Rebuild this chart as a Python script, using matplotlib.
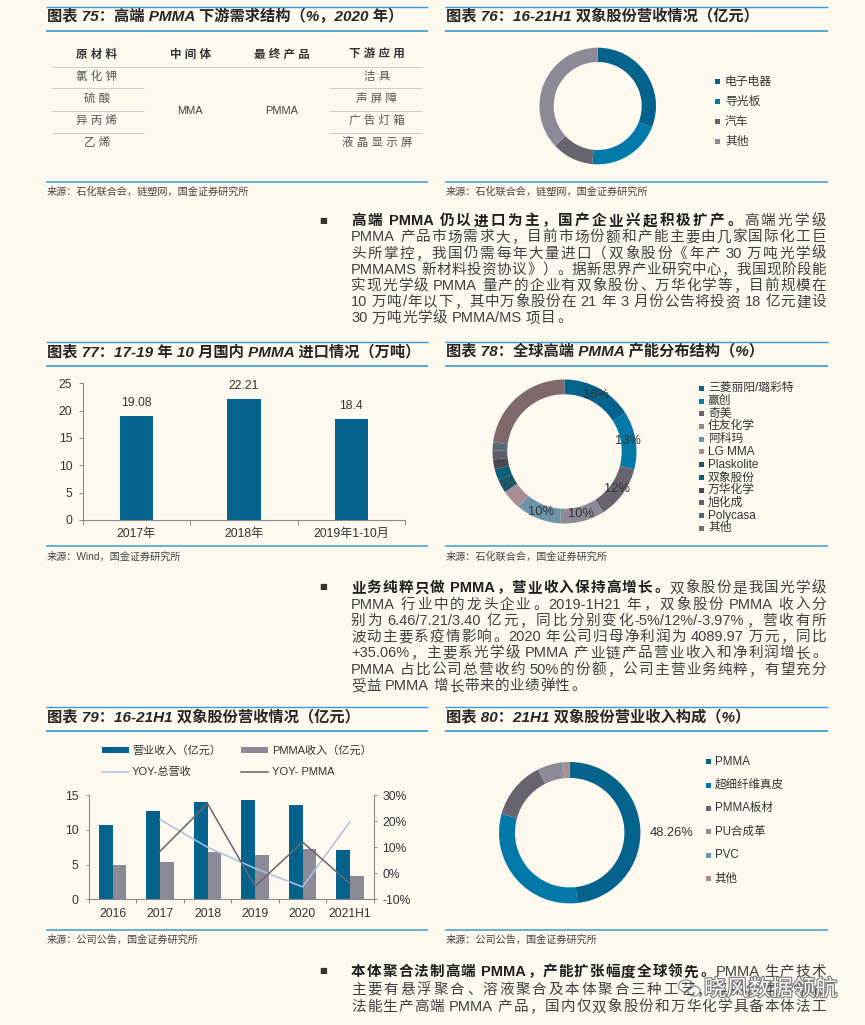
import matplotlib
matplotlib.use('Agg')
import matplotlib.pyplot as plt
import numpy as np
from matplotlib.lines import Line2D
from matplotlib.patches import Rectangle, Ellipse
import matplotlib.patheffects as pe
import warnings
warnings.filterwarnings('ignore')

# ---------------- data ----------------
t75_headers = ['原材料', '中间体', '最终产品', '下游应用']
t75_raw = ['氯化钾', '硫酸', '异丙烯', '乙烯']
t75_mid = 'MMA'
t75_final = 'PMMA'
t75_apps = ['洁具', '声屏障', '广告灯箱', '液晶显示屏']

c76_labels = ['电子电器', '导光板', '汽车', '其他']
c76_values = [31.0, 20.5, 11.5, 37.0]

c77_cats = ['2017年', '2018年', '2019年1-10月']
c77_values = [19.08, 22.21, 18.4]
c77_ticks = [0, 5, 10, 15, 20, 25]

c78_labels = ['三菱丽阳/璐彩特', '赢创', '奇美', '住友化学', '阿科玛', 'LG MMA',
              'Plaskolite', '双象股份', '万华化学', '旭化成', 'Polycasa', '其他']
c78_values = [16, 13, 12, 10, 10, 4.5, 3.0, 2.5, 2.2, 2.0, 1.8, 23.0]
c78_n_labeled = 5

c79_years = ['2016', '2017', '2018', '2019', '2020', '2021H1']
c79_revenue = [10.7, 12.8, 14.1, 14.3, 13.6, 7.05]
c79_pmma = [4.95, 5.45, 6.87, 6.46, 7.21, 3.40]
c79_yoy_total = [np.nan, 20.7, 10.0, 1.9, -5.2, 19.9]
c79_yoy_pmma = [np.nan, 8.5, 26.8, -5.0, 12.0, -3.97]
c79_left_ticks = [0, 5, 10, 15]
c79_right_ticks = [-10, 0, 10, 20, 30]
c79_legend = ['营业收入（亿元）', 'PMMA收入（亿元）', 'YOY-总营收', 'YOY- PMMA']

c80_labels = ['PMMA', '超细纤维真皮', 'PMMA板材', 'PU合成革', 'PVC', '其他']
c80_values = [48.26, 31.04, 13.3, 5.6, 0.3, 1.5]

titles = {
    75: '图表 75：高端 PMMA 下游需求结构（%，2020 年）',
    76: '图表 76：16-21H1 双象股份营收情况（亿元）',
    77: '图表 77：17-19 年 10 月国内 PMMA 进口情况（万吨）',
    78: '图表 78：全球高端 PMMA 产能分布结构（%）',
    79: '图表 79：16-21H1 双象股份营收情况（亿元）',
    80: '图表 80：21H1 双象股份营业收入构成（%）',
}
sources = {
    75: '来源：石化联合会，链塑网，国金证券研究所',
    76: '来源：石化联合会，链塑网，国金证券研究所',
    77: '来源：Wind，国金证券研究所',
    78: '来源：石化联合会，国金证券研究所',
    79: '来源：公司公告，国金证券研究所',
    80: '来源：公司公告，国金证券研究所',
}

para1 = [
    [('高端 PMMA 仍以进口为主，国产企业兴起积极扩产。', True), ('高端光学级', False)],
    [('PMMA 产品市场需求大，目前市场份额和产能主要由几家国际化工巨', False)],
    [('头所掌控，我国仍需每年大量进口（双象股份《年产 30 万吨光学级', False)],
    [('PMMAMS 新材料投资协议》）。据新思界产业研究中心，我国现阶段能', False)],
    [('实现光学级 PMMA 量产的企业有双象股份、万华化学等，目前规模在', False)],
    [('10 万吨/年以下，其中万象股份在 21 年 3 月份公告将投资 18 亿元建设', False)],
    [('30 万吨光学级 PMMA/MS 项目。', False)],
]
para2 = [
    [('业务纯粹只做 PMMA，营业收入保持高增长。', True), ('双象股份是我国光学级', False)],
    [('PMMA 行业中的龙头企业。2019-1H21 年，双象股份 PMMA 收入分', False)],
    [('别为 6.46/7.21/3.40 亿元，同比分别变化-5%/12%/-3.97%，营收有所', False)],
    [('波动主要系疫情影响。2020 年公司归母净利润为 4089.97 万元，同比', False)],
    [('+35.06%，主要系光学级 PMMA 产业链产品营业收入和净利润增长。', False)],
    [('PMMA 占比公司总营收约 50%的份额，公司主营业务纯粹，有望充分', False)],
    [('受益 PMMA 增长带来的业绩弹性。', False)],
]
para3 = [
    [('本体聚合法制高端 PMMA，产能扩张幅度全球领先。', True), ('PMMA 生产技术', False)],
    [('主要有悬浮聚合、溶液聚合及本体聚合三种工艺，其中仅本体聚合', False)],
    [('法能生产高端 PMMA 产品，国内仅双象股份和万华化学具备本体法工', False)],
]

# ---------------- style ----------------
W, H = 865, 1025
BG = '#FDF9EE'
LINE_BLUE = '#3A9AD3'
MIX = ['Liberation Sans', 'Noto Sans CJK SC']
CJK = 'Noto Sans CJK SC'
LAT = 'Liberation Sans'
plt.rcParams['font.family'] = MIX
plt.rcParams['axes.unicode_minus'] = False

C_TEAL = '#03638C'
C_BLUE = '#0079A8'
C_DGRAY = '#67646F'
C_GRAY = '#8D8A98'
C_STEEL = '#6C95AA'
C_PINK = '#A88E93'
TXT = '#333333'

fig = plt.figure(figsize=(W / 100, H / 100), dpi=100, facecolor=BG)
renderer = fig.canvas.get_renderer()


def fx(x):
    return x / W


def fy(y):
    return 1 - y / H


def ftext(x, y, s, **kw):
    return fig.text(fx(x), fy(y), s, **kw)


def hline(x0, x1, y, color, lw_px):
    fig.add_artist(Line2D([fx(x0), fx(x1)], [fy(y), fy(y)], transform=fig.transFigure,
                          color=color, lw=lw_px * 0.72, solid_capstyle='butt'))


def add_axes_px(l, t, r, b):
    ax = fig.add_axes([fx(l), fy(b), (r - l) / W, (b - t) / H])
    ax.patch.set_alpha(0)
    return ax


def panel(num, x0, x1, y_top, y_title, y_under, y_bot, y_src):
    hline(x0, x1, y_top, LINE_BLUE, 1.4)
    ftext(x0 + 1, y_title, titles[num], fontsize=11, weight='bold', style='italic',
          color='#262626', va='center', ha='left')
    hline(x0, x1, y_under, LINE_BLUE, 1.7)
    hline(x0, x1, y_bot, LINE_BLUE, 1.5)
    ftext(x0 + 1, y_src, sources[num], fontsize=7.3, color='#444444', va='center', ha='left')


LX0, LX1 = 46, 428
RX0, RX1 = 445, 828
ROW1 = (6.7, 16.5, 30.7, 182, 192)
ROW2 = (341.7, 351.7, 365.7, 546, 556.7)
ROW3 = (707.3, 716.7, 730.7, 930, 940)
panel(75, LX0, LX1, *ROW1)
panel(76, RX0, RX1, *ROW1)
panel(77, LX0, LX1, *ROW2)
panel(78, RX0, RX1, *ROW2)
panel(79, LX0, LX1, *ROW3)
panel(80, RX0, RX1, *ROW3)

# ---------------- chart 75 table ----------------
col_x = [97, 190, 282, 377]
GRID = '#CDCDCD'
for cx, h in zip(col_x, t75_headers):
    ftext(cx, 55, ' '.join(h), fontsize=8.3, weight='bold', color='#333333', ha='center', va='center')
hline(52, 422, 67, GRID, 1.0)
row_y = [77, 99, 121, 143]
for yy in [88, 111, 133]:
    hline(52, 144, yy, GRID, 1.0)
    hline(329, 422, yy, GRID, 1.0)
for yy, s in zip(row_y, t75_raw):
    ftext(col_x[0], yy, ' '.join(s), fontsize=8.3, color='#555555', ha='center', va='center')
for yy, s in zip(row_y, t75_apps):
    ftext(col_x[3], yy, ' '.join(s), fontsize=8.3, color='#555555', ha='center', va='center')
ftext(col_x[1], 110.5, t75_mid, fontsize=8, color='#444444', ha='center', va='center')
ftext(col_x[2], 110.5, t75_final, fontsize=8, color='#444444', ha='center', va='center')


# ---------------- donut helper ----------------
def donut(cx, cy, r, values, colors, width):
    ax = add_axes_px(cx - r, cy - r, cx + r, cy + r)
    wedges, _ = ax.pie(values, colors=colors, startangle=90, counterclock=False, radius=1,
                       wedgeprops=dict(width=width, linewidth=0))
    ax.set_xlim(-1, 1)
    ax.set_ylim(-1, 1)
    ax.set_aspect('equal')
    ax.axis('off')
    return ax, wedges


def sq_legend(xm, xt, ys, labels, colors, fs, size=5.0):
    for yy, lab, c in zip(ys, labels, colors):
        fig.add_artist(Rectangle((fx(xm - size / 2), fy(yy + size / 2)), size / W, size / H,
                                 transform=fig.transFigure, color=c, lw=0))
        ftext(xt, yy, lab, fontsize=fs, color=TXT, ha='left', va='center')


# ---------------- chart 76 ----------------
c76_colors = [C_TEAL, C_BLUE, C_DGRAY, C_GRAY]
donut(597.7, 106, 58.3, c76_values, c76_colors, 0.245)
sq_legend(717, 725, [81.7 + 20 * i for i in range(4)], c76_labels, c76_colors, 8.5)

# ---------------- chart 77 ----------------
ax77 = add_axes_px(82.7, 383.3, 405, 520)
x77 = np.arange(len(c77_cats))
bars77 = ax77.bar(x77, c77_values, width=0.31, color=C_TEAL)
ax77.bar_label(bars77, padding=5, fontsize=8.7, color=TXT)
ax77.set_xlim(-0.5, len(c77_cats) - 0.5)
ax77.set_ylim(0, 25)
ax77.set_yticks(c77_ticks)
ax77.set_xticks(x77)
ax77.set_xticklabels(c77_cats)
ax77.set_xticks(np.arange(len(c77_cats) + 1) - 0.5, minor=True)
ax77.tick_params(axis='x', which='major', length=0, pad=6, labelsize=8.7, labelcolor=TXT)
ax77.tick_params(axis='x', which='minor', length=3.5, color='#888888', width=0.7)
ax77.tick_params(axis='y', length=3.0, pad=4.5, labelsize=8.7, labelcolor=TXT, color='#888888', width=0.7)
for s in ['top', 'right']:
    ax77.spines[s].set_visible(False)
for s in ['left', 'bottom']:
    ax77.spines[s].set_color('#8A8A8A')
    ax77.spines[s].set_linewidth(0.8)

# ---------------- chart 78 ----------------
c78_colors = [C_TEAL, C_BLUE, C_DGRAY, C_GRAY, C_STEEL, C_PINK,
              '#1D5567', '#0B6177', '#4A4856', '#5F5D6B', '#4F6B75', '#7E6A6D']
ax78, w78 = donut(564.5, 451.5, 72, c78_values, c78_colors, 0.205)
rr = 1 - 0.205 / 2
for i in range(c78_n_labeled):
    ang = np.deg2rad((w78[i].theta1 + w78[i].theta2) / 2)
    ax78.text(rr * np.cos(ang), rr * np.sin(ang), f'{c78_values[i]:.0f}%', ha='center', va='center',
              fontsize=9.3, color='#333333')
sq_legend(701.3, 708, [388.3 + 12.73 * i for i in range(len(c78_labels))], c78_labels, c78_colors, 8.5)

# ---------------- chart 79 ----------------
ax79 = add_axes_px(88.8, 795.3, 373.8, 899.3)
x79 = np.arange(len(c79_years))
bw = 0.29
ax79.bar(x79 - bw / 2, c79_revenue, width=bw, color=C_TEAL)
ax79.bar(x79 + bw / 2, c79_pmma, width=bw, color=C_GRAY)
ax79.set_xlim(-0.5, len(c79_years) - 0.5)
ax79.set_ylim(0, 15)
ax79.set_yticks(c79_left_ticks)
ax79.set_xticks(x79)
ax79.set_xticklabels(c79_years)
ax79.set_xticks(np.arange(len(c79_years) + 1) - 0.5, minor=True)
ax79.tick_params(axis='x', which='major', length=0, pad=6, labelsize=8.7, labelcolor=TXT)
ax79.tick_params(axis='x', which='minor', length=3.0, color='#888888', width=0.7)
ax79.tick_params(axis='y', length=2.5, pad=5, labelsize=8.7, labelcolor=TXT, color='#888888', width=0.7)
ax79b = ax79.twinx()
ax79b.plot(x79, c79_yoy_total, color='#A9C1E2', lw=1.1)
ax79b.plot(x79, c79_yoy_pmma, color='#69646F', lw=1.1)
ax79b.set_ylim(-10, 30)
ax79b.set_yticks(c79_right_ticks)
ax79b.set_yticklabels([f'{v}%' for v in c79_right_ticks])
ax79b.tick_params(axis='y', length=2.5, pad=3.5, labelsize=8.7, labelcolor=TXT, color='#888888', width=0.7)
for a in (ax79, ax79b):
    a.spines['top'].set_visible(False)
ax79.spines['right'].set_visible(False)
ax79b.spines['left'].set_visible(False)
ax79b.spines['bottom'].set_visible(False)
for a, s in ((ax79, 'left'), (ax79, 'bottom'), (ax79b, 'right')):
    a.spines[s].set_color('#8A8A8A')
    a.spines[s].set_linewidth(0.8)

# legend 79 (manual)
def leg_patch(x0, x1, yy, c):
    fig.add_artist(Rectangle((fx(x0), fy(yy + 3.2)), (x1 - x0) / W, 6.4 / H,
                             transform=fig.transFigure, color=c, lw=0))


def leg_line(x0, x1, yy, c):
    fig.add_artist(Line2D([fx(x0), fx(x1)], [fy(yy), fy(yy)], transform=fig.transFigure, color=c, lw=1.1))


leg_patch(101.7, 129.3, 750, C_TEAL)
ftext(132.7, 750, c79_legend[0], fontsize=8, color=TXT, va='center')
leg_patch(240.7, 268.3, 750, C_GRAY)
ftext(271.7, 750, c79_legend[1], fontsize=8, color=TXT, va='center')
leg_line(101.7, 129.3, 771.7, '#A9C1E2')
ftext(131.7, 771.7, c79_legend[2], fontsize=8, color=TXT, va='center')
leg_line(240.7, 268.3, 771.7, '#69646F')
ftext(271.7, 771.7, c79_legend[3], fontsize=8, color=TXT, va='center')

# ---------------- chart 80 ----------------
c80_colors = [C_TEAL, C_BLUE, C_DGRAY, C_GRAY, C_STEEL, C_PINK]
ax80, w80 = donut(569.7, 832.7, 70.7, c80_values, c80_colors, 0.226)
ang = np.deg2rad((w80[0].theta1 + w80[0].theta2) / 2)
ax80.text(1.44 * np.cos(ang), 1.44 * np.sin(ang) - 0.08, f'{c80_values[0]:.2f}%', ha='center', va='center',
          fontsize=9.3, color='#333333', clip_on=False)
sq_legend(708.7, 714.7, [761.7 + 23.33 * i for i in range(len(c80_labels))], c80_labels, c80_colors, 8.3)

# ---------------- paragraphs (justified) ----------------
LEFT_P = '，。、；：）》'
RIGHT_P = '（《'


def is_cjk(ch):
    return ord(ch) >= 0x2E80


def tokenize(segs):
    toks = []
    sp = False
    for text, bold in segs:
        buf = ''
        for ch in text:
            if ch == ' ':
                if buf:
                    toks.append(['l', buf, bold, sp]); buf = ''; sp = False
                sp = True
            elif is_cjk(ch):
                if buf:
                    toks.append(['l', buf, bold, sp]); buf = ''; sp = False
                toks.append(['c', ch, bold, sp]); sp = False
            else:
                buf += ch
        if buf:
            toks.append(['l', buf, bold, sp]); sp = False
    return toks


def lat_width(s, fs, bold):
    t = fig.text(0, 0, s, fontsize=fs, family=LAT, weight='bold' if bold else 'normal')
    w = t.get_window_extent(renderer=renderer).width
    t.remove()
    return w


def draw_line(segs, x0, x1, yc, fs, justify):
    em = fs * 100 / 72
    toks = tokenize(segs)
    widths = [em if k == 'c' else lat_width(s, fs, b) for k, s, b, sp in toks]
    spw = 0.26 * em
    natural = sum(widths) + spw * sum(1 for t in toks if t[3])
    n = len(toks)
    extra = (x1 - x0 - natural) / (n - 1) if (justify and n > 1) else 0.6
    yb = yc + 0.36 * em
    x = x0
    for i, ((k, s, b, sp), w) in enumerate(zip(toks, widths)):
        if i > 0:
            x += extra
        if sp:
            x += spw
        col = '#1E1E1E' if b else '#404040'
        wt = 'bold' if b else 'normal'
        if k == 'c':
            if s in LEFT_P:
                ftext(x + 0.06 * em, yb, s, fontsize=fs, family=CJK, weight=wt, color=col, ha='left', va='baseline')
            elif s in RIGHT_P:
                ftext(x + w - 0.06 * em, yb, s, fontsize=fs, family=CJK, weight=wt, color=col, ha='right', va='baseline')
            else:
                ftext(x + w / 2, yb, s, fontsize=fs, family=CJK, weight=wt, color=col, ha='center', va='baseline')
        else:
            ftext(x, yb, s, fontsize=fs, family=LAT, weight=wt, color=col, ha='left', va='baseline')
        x += w


def paragraph(lines, y0, dy, justify_last=False, fs=10.5):
    ftext(323.5, y0, '■', fontsize=6, family='DejaVu Sans', color='#333333', ha='center', va='center')
    for i, segs in enumerate(lines):
        j = (i < len(lines) - 1) or justify_last
        draw_line(segs, 351, 826, y0 + i * dy, fs, j)


paragraph(para1, 220, 16.2)
paragraph(para2, 587, 16.3)
paragraph(para3, 971, 17.5, justify_last=True)

# ---------------- watermark ----------------
for (ex, ey, ew, eh) in [(686, 986, 15, 12), (694, 991, 12, 10)]:
    fig.add_artist(Ellipse((fx(ex), fy(ey)), ew / W, eh / H, transform=fig.transFigure,
                           facecolor='white', edgecolor='#8A8A8A', lw=1.0, alpha=0.9))
ftext(704, 989, '晓风数据领航', fontsize=16, family=CJK, color='white', ha='left', va='center',
      path_effects=[pe.withStroke(linewidth=1.6, foreground='#7A7A7A')])

fig.savefig('out.png', dpi=100, facecolor=BG)
